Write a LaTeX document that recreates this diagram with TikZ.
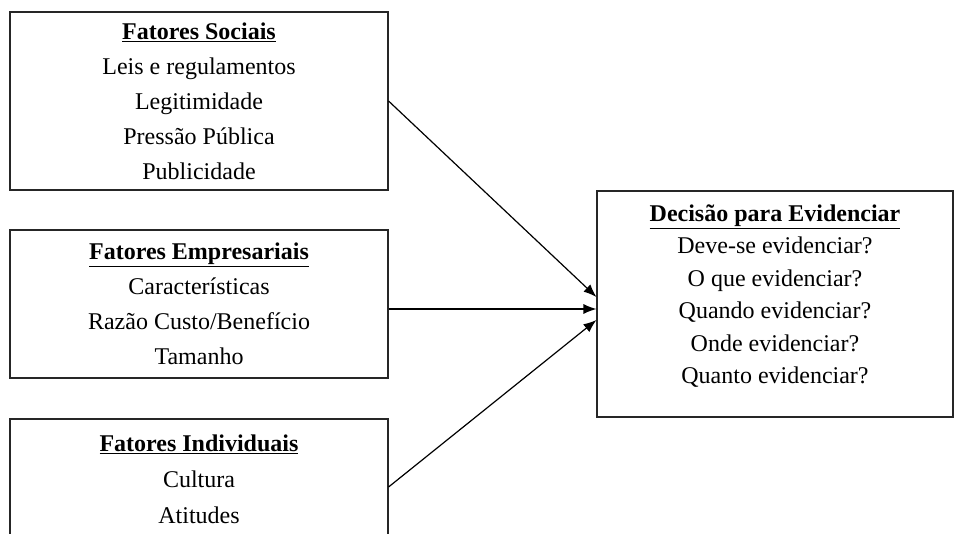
\documentclass[tikz,border=0pt]{standalone}
\usepackage{fontspec}
\setmainfont{Liberation Serif}
\usetikzlibrary{arrows.meta}
\begin{document}
\begin{tikzpicture}[x=1pt,y=-1pt,
		box/.style={draw=black!85,line width=1.1pt,rectangle,inner sep=0,align=center},
		lista/.style={font=\fontsize{24}{35}\selectfont},
		seta/.style={line width=1.2pt,-{Latex[length=13pt,width=10pt]}}]
		\useasboundingbox (0,0) rectangle (961,533);
		\clip (0,0) rectangle (961,533);
		\begin{scope}[nodes={box,lista,minimum width=378}]
		\node[minimum height=178] (sociais) at (199,101) {\underline{\textbf{Fatores Sociais}}\\
			Leis e regulamentos\\ Legitimidade\\ Pressão Pública\\ Publicidade};
		\node[minimum height=148] (empresariais) at (199,304) {\underline{\textbf{Fatores Empresariais}}\\
			Características\\ Razão Custo/Benefício\\ Tamanho};
		\node[minimum height=120,font=\fontsize{24}{36}\selectfont] (individuais) at (199,479) {\underline{\textbf{Fatores Individuais}}\\
			Cultura\\ Atitudes};
		\end{scope}
		\node[box,minimum width=356,minimum height=226] (decisao) at (775,304) {};
		\node[align=center,font=\fontsize{24}{32.4}\selectfont] (perguntas) at ([yshift=8pt]decisao.center) {\underline{\textbf{Decisão para Evidenciar}}\\
			Deve-se evidenciar?\\ O que evidenciar?\\ Quando evidenciar?\\ Onde evidenciar?\\ Quanto evidenciar?};
		\draw[seta] (sociais.east) -- ([yshift=7pt]decisao.west);
		\draw[seta] ([yshift=-5pt]empresariais.east) -- ([yshift=-5pt]decisao.west);
		\draw[seta] ([yshift=-8pt]individuais.east) -- ([yshift=-16pt]decisao.west);
		\end{tikzpicture}
\end{document}
